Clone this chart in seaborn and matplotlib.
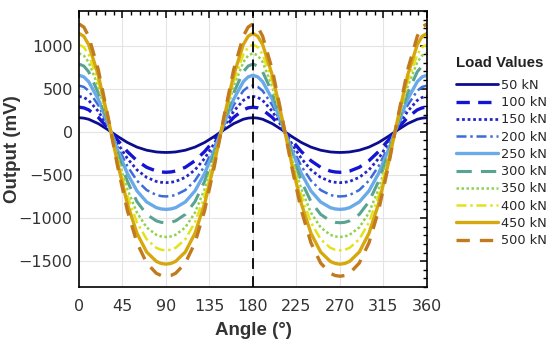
#!/usr/bin/env python3

# sensor output vs. angle for several loads, saved as out.png

import matplotlib
matplotlib.use('Agg')
import matplotlib.pyplot as plt
from matplotlib.ticker import MultipleLocator
import pandas as pd
import seaborn as sns

# angles read on one quarter turn (curves repeat with mirror symmetry)
quarter_angles = [0, 5, 10, 20, 30, 40, 50, 60, 70, 80, 85, 90]

load_labels = ['50 kN', '100 kN', '150 kN', '200 kN', '250 kN',
               '300 kN', '350 kN', '400 kN', '450 kN', '500 kN']

# output (mV) at quarter_angles
out_50 = [163, 158, 145, 94, 23, -54, -124, -178, -214, -234, -238, -240]
out_100 = [285, 277, 254, 166, 41, -98, -229, -336, -412, -456, -466, -470]
out_150 = [410, 398, 364, 237, 58, -135, -309, -442, -529, -576, -586, -590]
out_200 = [535, 520, 475, 308, 75, -175, -398, -567, -676, -733, -746, -750]
out_250 = [655, 636, 581, 377, 92, -213, -483, -686, -814, -880, -895, -900]
out_300 = [785, 762, 696, 451, 110, -254, -573, -810, -958, -1033, -1050, -1055]
out_350 = [910, 884, 807, 523, 127, -294, -664, -938, -1109, -1195, -1214, -1220]
out_400 = [1010, 981, 896, 581, 142, -327, -741, -1051, -1246, -1346, -1368, -1375]
out_450 = [1140, 1107, 1011, 655, 160, -368, -833, -1178, -1394, -1503, -1527, -1535]
out_500 = [1250, 1214, 1108, 718, 175, -403, -911, -1288, -1522, -1641, -1667, -1675]

outputs = [out_50, out_100, out_150, out_200, out_250,
           out_300, out_350, out_400, out_450, out_500]


def full_angles(quarter):
    """0..360 degrees from the quarter turn"""
    half = quarter + [180 - a for a in quarter[-2::-1]]
    return half + [180 + a for a in half[1:]]


def full_values(quarter):
    """mirror quarter readings over the whole turn"""
    half = quarter + quarter[-2::-1]
    return half + half[1:]


angles = full_angles(quarter_angles)
rows = []
for label, vals in zip(load_labels, outputs):
    for a, v in zip(angles, full_values(vals)):
        rows.append({'Angle': a, 'Output': v, 'Load': label})
df = pd.DataFrame(rows)

colors = ['#0c0c8e', '#1414d2', '#2626c4', '#3c6cd8', '#6aaae8',
          '#5aa392', '#8fd24e', '#e3e31c', '#d6a80e', '#c27a1e']
dash_list = ['', (4, 2.5), (1, 1), (4, 1.5, 1, 1.5), '',
             (5, 3), (1, 1), (4, 1.5, 1, 1.5), '', (4, 3)]
width_list = [2.0, 2.4, 2.0, 1.8, 2.4, 2.2, 1.8, 1.8, 2.4, 2.4]

palette = dict(zip(load_labels, colors))
dashes = dict(zip(load_labels, dash_list))
widths = dict(zip(load_labels, width_list))

sns.set_theme(style='white')
plt.rcParams['font.family'] = ['DejaVu Sans']
plt.rcParams['xtick.direction'] = 'in'
plt.rcParams['ytick.direction'] = 'in'

fig = plt.figure(figsize=(5.5, 3.46), dpi=100)
ax = fig.add_axes([0.1436, 0.1705, 0.6327, 0.7977])

sns.lineplot(data=df, x='Angle', y='Output', hue='Load', style='Load',
             size='Load', palette=palette, dashes=dashes, sizes=widths,
             hue_order=load_labels, style_order=load_labels,
             size_order=load_labels, estimator=None, sort=False, ax=ax)

ax.axvline(180, color='black', linestyle=(0, (6, 4)), linewidth=1.3, zorder=5)

ax.set_xlim(0, 360)
ax.set_ylim(-1800, 1400)
ax.set_xticks(range(0, 361, 45))
ax.set_yticks([-1500, -1000, -500, 0, 500, 1000])
ax.xaxis.set_minor_locator(MultipleLocator(9))
ax.yaxis.set_minor_locator(MultipleLocator(100))
ax.tick_params(which='both', top=True, right=True, color='black',
               labelsize=11.5, labelcolor='#333333')
ax.tick_params(which='major', length=5, width=1.1)
ax.tick_params(which='minor', length=3, width=1.0)
ax.tick_params(axis='x', which='major', pad=8.5)
ax.tick_params(axis='y', which='major', pad=4.5)
ax.grid(True, which='major', color='#e4e4e4', linewidth=0.8)
for sp in ax.spines.values():
    sp.set_color('black')
    sp.set_linewidth(1.2)

label_font = {'family': ['Liberation Sans', 'DejaVu Sans'], 'size': 13.5,
              'weight': 'bold'}
ax.set_xlabel('Angle (°)', fontdict=label_font, color='#333333', labelpad=6)
ax.set_ylabel('Output (mV)', fontdict=label_font, color='#333333')
# put the y label where the reference has it
ax.yaxis.set_label_coords(-0.166, 0.5)

sns.move_legend(ax, 'upper left', bbox_to_anchor=(1.083, 0.754),
                title=None, frameon=False, fontsize=9.3,
                handlelength=3.25, labelspacing=0.33, handletextpad=0.25,
                borderaxespad=0, borderpad=0)
ax.text(1.21, 0.81, 'Load Values', transform=ax.transAxes, ha='center',
        va='center', family='Liberation Sans', weight='bold', size=10.8,
        color='#222222')

fig.savefig('out.png', dpi=100)
